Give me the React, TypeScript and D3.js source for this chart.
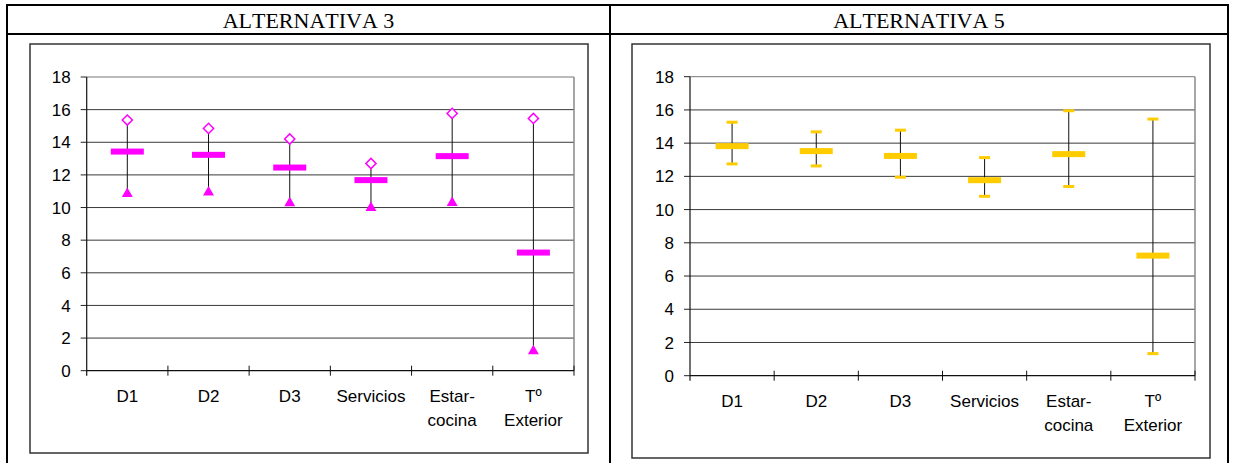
import React from "react";
import * as d3 from "d3";

const categories: string[][] = [["D1"], ["D2"], ["D3"], ["Servicios"], ["Estar-", "cocina"], ["Tº", "Exterior"]];
const yTicks = [0, 2, 4, 6, 8, 10, 12, 14, 16, 18];

const alt3Mean = [13.43, 13.23, 12.45, 11.68, 13.15, 7.24];
const alt3Max = [15.36, 14.85, 14.2, 12.7, 15.77, 15.46];
const alt3Min = [10.9, 11.0, 10.33, 10.04, 10.35, 1.27];

const alt5Mean = [13.82, 13.52, 13.23, 11.77, 13.34, 7.23];
const alt5Max = [15.26, 14.68, 14.78, 13.13, 15.95, 15.45];
const alt5Min = [12.75, 12.63, 11.95, 10.8, 11.39, 1.33];

const titles = ["ALTERNATIVA 3", "ALTERNATIVA 5"];

type ChartProps = {
  frame: { x0: number; y0: number; x1: number; y1: number };
  plot: { x0: number; y0: number; x1: number; y1: number };
  mean: number[];
  max: number[];
  min: number[];
  variant: "magenta" | "yellow";
  labelY: number;
};

const FONT = "'Liberation Sans', Arial, sans-serif";

function Chart({ frame, plot, mean, max, min, variant, labelY }: ChartProps) {
  const y = d3.scaleLinear().domain([0, 18]).range([plot.y1, plot.y0]);
  const keys = categories.map((c) => c.join(" "));
  const x = d3.scaleBand<string>().domain(keys).range([plot.x0, plot.x1]).padding(0);
  const bw = x.bandwidth();
  const color = variant === "magenta" ? "#FF00FF" : "#FFCC00";
  const tri = d3.symbol().type(d3.symbolTriangle).size(52)();
  return (
    <g>
      <rect x={frame.x0} y={frame.y0} width={frame.x1 - frame.x0} height={frame.y1 - frame.y0} fill="#fff" stroke="#333" strokeWidth={1.5} />
      {yTicks.map((t) => (
        <g key={t}>
          {t > 0 && <line x1={plot.x0} x2={plot.x1} y1={y(t)} y2={y(t)} stroke={t === 18 ? "#777" : "#3a3a3a"} strokeWidth={1} />}
          <line x1={plot.x0 - 6} x2={plot.x0} y1={y(t)} y2={y(t)} stroke="#222" strokeWidth={1} />
          <text x={plot.x0 - 16} y={y(t)} dy="0.36em" textAnchor="end" fontFamily={FONT} fontSize={17} fill="#000">
            {t}
          </text>
        </g>
      ))}
      <line x1={plot.x1} x2={plot.x1} y1={plot.y0} y2={plot.y1} stroke="#888" strokeWidth={1.5} />
      <line x1={plot.x0} x2={plot.x0} y1={plot.y0} y2={plot.y1 + 5} stroke="#111" strokeWidth={1.2} />
      <line x1={plot.x0} x2={plot.x1} y1={plot.y1} y2={plot.y1} stroke="#111" strokeWidth={1.2} />
      {keys.map((k, i) => (
        <line key={"xt" + i} x1={x(k)! + bw} x2={x(k)! + bw} y1={plot.y1 - 5} y2={plot.y1 + 5} stroke="#111" strokeWidth={1} />
      ))}
      {categories.map((lines, i) => {
        const cx = x(keys[i])! + bw / 2;
        return (
          <text key={"xl" + i} x={cx} y={labelY} textAnchor="middle" fontFamily={FONT} fontSize={17} fill="#000">
            {lines.map((l, j) => (
              <tspan key={j} x={cx} dy={j === 0 ? "0.36em" : 24}>
                {l}
              </tspan>
            ))}
          </text>
        );
      })}
      {keys.map((k, i) => {
        const cx = x(k)! + bw / 2;
        return (
          <g key={"m" + i}>
            <line x1={cx} x2={cx} y1={y(max[i])} y2={y(min[i])} stroke="#111" strokeWidth={1} />
            {variant === "magenta" ? (
              <>
                <path d={tri} transform={`translate(${cx},${y(min[i]) + 1})`} fill={color} />
                <rect x={cx - 3.6} y={y(max[i]) - 3.6} width={7.2} height={7.2} transform={`rotate(45 ${cx} ${y(max[i])})`} fill="#fff" stroke={color} strokeWidth={1.5} />
              </>
            ) : (
              <>
                <rect x={cx - 5.5} y={y(max[i]) - 1.5} width={11} height={3} fill={color} />
                <rect x={cx - 5.5} y={y(min[i]) - 1.5} width={11} height={3} fill={color} />
              </>
            )}
            <rect x={cx - 16.5} y={y(mean[i]) - 3} width={33} height={6} fill={color} />
          </g>
        );
      })}
    </g>
  );
}

export default function App() {
  const W = 1233;
  const H = 463;
  const serif = "'Liberation Serif', 'Times New Roman', serif";
  return (
    <svg width={W} height={H} style={{ position: "absolute", left: 0, top: 0, background: "#fff" }}>
      <rect x={0} y={0} width={W} height={H} fill="#fff" />
      <line x1={7} x2={7} y1={5} y2={H} stroke="#000" strokeWidth={2} />
      <line x1={610} x2={610} y1={5} y2={H} stroke="#000" strokeWidth={2} />
      <line x1={1228} x2={1228} y1={5} y2={H} stroke="#000" strokeWidth={2} />
      <line x1={6} x2={1229} y1={5} y2={5} stroke="#000" strokeWidth={2} />
      <line x1={6} x2={1229} y1={34} y2={34} stroke="#000" strokeWidth={2} />
      <text x={308.5} y={20} dy="0.35em" textAnchor="middle" fontFamily={serif} fontSize={22} style={{ fontKerning: "none" }} fill="#000">
        {titles[0]}
      </text>
      <text x={919} y={20} dy="0.35em" textAnchor="middle" fontFamily={serif} fontSize={22} style={{ fontKerning: "none" }} fill="#000">
        {titles[1]}
      </text>
      <Chart
        frame={{ x0: 30, y0: 44, x1: 588, y1: 453 }}
        plot={{ x0: 86.7, y0: 77, x1: 574, y1: 370.7 }}
        mean={alt3Mean}
        max={alt3Max}
        min={alt3Min}
        variant="magenta"
        labelY={396}
      />
      <Chart
        frame={{ x0: 632, y0: 44, x1: 1210, y1: 458 }}
        plot={{ x0: 690, y0: 76.7, x1: 1195, y1: 375.7 }}
        mean={alt5Mean}
        max={alt5Max}
        min={alt5Min}
        variant="yellow"
        labelY={401}
      />
    </svg>
  );
}
